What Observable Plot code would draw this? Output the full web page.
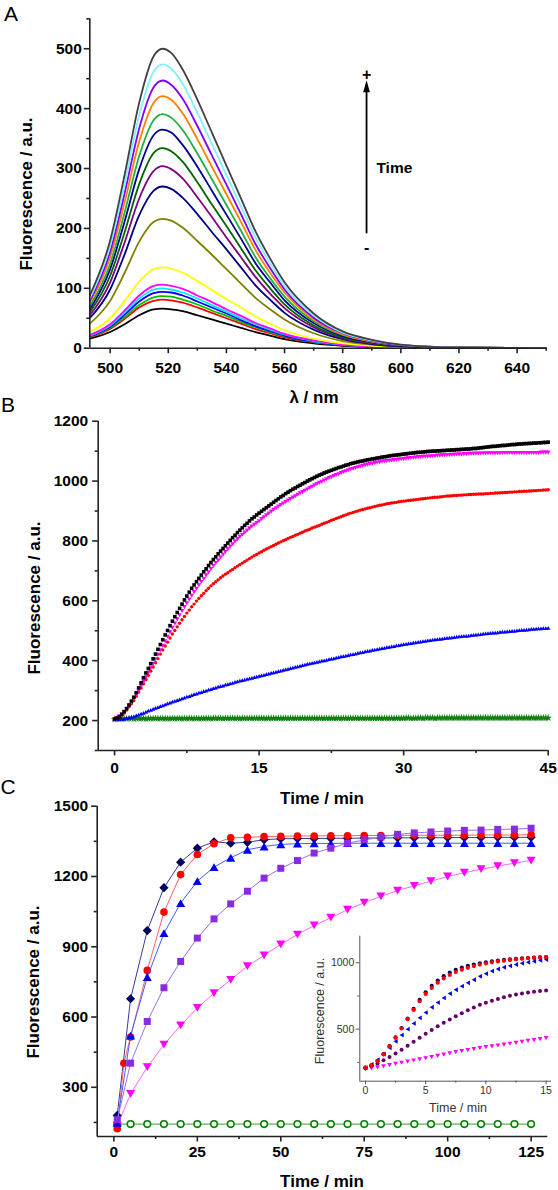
<!DOCTYPE html>
<html><head><meta charset="utf-8">
<script src="https://cdn.jsdelivr.net/npm/d3@7"></script>
<script src="https://cdn.jsdelivr.net/npm/@observablehq/plot@0.6"></script>
<style>
body{margin:0;background:#fff;}
#wrap{position:relative;width:558px;height:1190px;overflow:hidden;font-family:"Liberation Sans",Arial,sans-serif;color:#000;}
.abs{position:absolute;}
.lab{position:absolute;white-space:nowrap;transform:translate(-50%,-50%);font-weight:bold;font-size:17px;line-height:1;}
.plab{position:absolute;white-space:nowrap;transform:translate(-50%,-50%);font-size:21px;line-height:1;}
.ilab{position:absolute;white-space:nowrap;transform:translate(-50%,-50%);font-size:12.5px;line-height:1;color:#333;}
.lab.rot,.ilab.rot{transform:translate(-50%,-50%) rotate(-90deg);}
</style></head><body><div id="wrap"></div>
<script>
// ---------------- Panel A: emission spectra ----------------
const wavelengthNm = [493,500,505,510,515,518,521,525,530,535,540,545,550,555,560,570,580,590,600,620,650];
const spectrum01 = [16,27,40,55,65,66,65,62,55,48,41,34,27,21,15,8,4,2,1,0,0];
const spectrum02 = [18,32,49,68,79,81,80,76,68,59,50,41,32,25,18,10,5,2,1,0,0];
const spectrum03 = [19,34,52,72,85,87,86,81,73,63,54,44,35,27,20,10,5,2,1,0,0];
const spectrum04 = [20,36,56,78,92,94,93,88,78,68,58,47,37,29,21,11,5,3,1,0,0];
const spectrum05 = [21,38,60,83,98,100,98,93,83,72,61,50,40,31,23,12,6,3,1,0,0];
const spectrum06 = [22,40,63,88,104,106,104,99,88,77,65,54,42,33,24,13,6,3,1,0,0];
const spectrum07 = [27,50,79,111,132,135,133,126,112,97,82,68,53,41,30,16,8,4,2,0,0];
const spectrum08 = [41,79,126,178,211,216,213,201,179,156,132,108,84,65,48,25,12,6,3,1,0];
const spectrum09 = [50,98,157,222,263,270,266,251,224,194,165,135,105,81,59,31,15,7,3,1,0];
const spectrum10 = [55,110,177,250,296,304,299,283,252,219,185,152,119,91,67,35,17,8,4,1,0];
const spectrum11 = [60,121,194,274,326,334,329,311,277,240,204,167,130,100,73,38,18,9,4,1,0];
const spectrum12 = [65,132,212,299,356,365,360,339,303,263,223,183,142,110,80,42,20,10,4,1,0];
const spectrum13 = [70,141,227,321,381,391,385,364,325,282,239,196,152,117,86,45,22,11,5,1,0];
const spectrum14 = [75,152,244,345,410,421,415,392,349,303,257,211,164,126,93,48,23,11,5,1,0];
const spectrum15 = [79,161,259,367,436,447,440,416,371,322,273,224,174,134,98,51,25,12,5,1,0];
const spectrum16 = [83,171,275,389,462,474,467,441,393,341,289,237,185,142,104,55,26,13,6,1,0];
const spectrum17 = [88,180,290,410,488,500,493,465,415,360,305,250,195,150,110,58,28,14,6,1,0];
const spectra = [spectrum01,spectrum02,spectrum03,spectrum04,spectrum05,spectrum06,spectrum07,spectrum08,spectrum09,spectrum10,spectrum11,spectrum12,spectrum13,spectrum14,spectrum15,spectrum16,spectrum17];
const spectrumColors = ["#000000","#ff0000","#00c000","#0000ff","#00e8ff","#ff00ff","#ffff00","#808000","#000080","#800080","#006400","#000090","#22b040","#ff8000","#8000ff","#80f0ff","#404040"];
const xTicksA = [500,520,540,560,580,600,620,640];
const xMinorA = [510,530,550,570,590,610,630,650];
const yTicksA = [0,100,200,300,400,500];
const yMinorA = [50,150,250,350,450,550];
// arrow annotation (data units)
const timeArrow = {x: 588.2, from: 191, to: 427, head: 434, plus: 457, minus: 168, textX: 591.6, textY: 301};

// ---------------- Panel B: kinetics 0-45 min (every 15 s) ----------------
const timeB = [0,0.25,0.5,0.75,1,1.25,1.5,1.75,2,2.25,2.5,2.75,3,3.25,3.5,3.75,4,4.25,4.5,4.75,5,5.25,5.5,5.75,6,6.25,6.5,6.75,7,7.25,7.5,7.75,8,8.25,8.5,8.75,9,9.25,9.5,9.75,10,10.25,10.5,10.75,11,11.25,11.5,11.75,12,12.25,12.5,12.75,13,13.25,13.5,13.75,14,14.25,14.5,14.75,15,15.25,15.5,15.75,16,16.25,16.5,16.75,17,17.25,17.5,17.75,18,18.25,18.5,18.75,19,19.25,19.5,19.75,20,20.25,20.5,20.75,21,21.25,21.5,21.75,22,22.25,22.5,22.75,23,23.25,23.5,23.75,24,24.25,24.5,24.75,25,25.25,25.5,25.75,26,26.25,26.5,26.75,27,27.25,27.5,27.75,28,28.25,28.5,28.75,29,29.25,29.5,29.75,30,30.25,30.5,30.75,31,31.25,31.5,31.75,32,32.25,32.5,32.75,33,33.25,33.5,33.75,34,34.25,34.5,34.75,35,35.25,35.5,35.75,36,36.25,36.5,36.75,37,37.25,37.5,37.75,38,38.25,38.5,38.75,39,39.25,39.5,39.75,40,40.25,40.5,40.75,41,41.25,41.5,41.75,42,42.25,42.5,42.75,43,43.25,43.5,43.75,44,44.25,44.5,44.75,45];
const blackB = [205,208,213,221,230,240,252,265,278,293,309,326,343,359,374,390,406,422,438,454,470,486,501,517,532,547,561,575,589,603,616,629,642,653,664,675,686,697,707,718,
728,738,747,757,766,775,784,793,802,811,819,828,836,844,852,859,867,874,880,887,893,899,905,911,917,923,929,935,941,947,952,958,963,968,973,977,982,986,991,995,
1000,1004,1008,1012,1016,1020,1023,1027,1030,1033,1036,1039,1042,1045,1047,1050,1053,1055,1058,1060,1062,1064,1066,1067,1069,1071,1072,1074,1075,1077,1078,1080,1081,1082,1084,1085,1086,1087,1088,1089,
1090,1091,1092,1093,1094,1095,1096,1096,1097,1098,1099,1099,1100,1100,1101,1101,1102,1102,1103,1103,1104,1104,1105,1105,1106,1106,1107,1107,1108,1109,1109,1110,1111,1112,1113,1114,1115,1116,1116,1117,
1118,1119,1119,1120,1121,1122,1122,1123,1124,1124,1125,1125,1126,1126,1127,1127,1128,1128,1129,1129,1130];
const magentaB = [205,208,214,220,228,238,249,260,272,286,300,315,330,345,360,375,390,405,420,435,450,465,480,495,510,524,538,552,566,579,592,604,617,629,640,652,663,674,685,695,
706,716,726,735,745,754,763,772,781,789,798,806,814,821,828,835,842,848,854,860,866,873,879,886,892,898,904,909,915,920,925,930,935,940,945,949,954,959,963,968,
972,977,981,986,990,994,998,1002,1006,1010,1013,1017,1020,1023,1027,1030,1033,1036,1039,1041,1044,1046,1049,1051,1053,1055,1057,1058,1060,1062,1063,1065,1066,1067,1068,1069,1070,1071,1072,1073,
1074,1075,1076,1077,1078,1079,1080,1080,1081,1081,1082,1082,1083,1084,1085,1085,1086,1086,1087,1087,1088,1088,1089,1089,1089,1090,1090,1091,1091,1091,1092,1092,1092,1092,1093,1093,1093,1093,1093,1093,
1093,1094,1094,1094,1094,1094,1094,1094,1094,1094,1094,1094,1094,1094,1094,1094,1094,1095,1095,1095,1095];
const redB = [205,208,214,219,225,235,246,256,267,281,295,309,323,337,351,365,379,393,407,422,436,449,462,476,489,501,513,525,537,548,559,569,580,589,599,608,617,625,634,642,
650,657,664,670,677,683,689,694,700,705,711,716,721,726,731,736,741,746,751,755,760,764,769,773,777,781,785,789,793,797,801,804,808,812,815,819,822,826,829,833,
836,839,843,846,849,852,856,859,862,865,869,872,875,878,881,884,887,890,893,895,898,900,903,905,907,909,911,913,915,917,919,920,922,924,925,927,928,929,931,932,
933,934,935,936,937,938,939,940,941,942,943,944,945,946,946,947,948,949,950,950,951,952,952,953,953,954,954,955,955,956,956,957,957,957,958,958,959,959,960,960,
961,961,962,962,963,963,964,964,965,965,966,966,967,967,968,968,969,969,970,970,971];
const blueB = [205,205,205,206,206,208,210,212,214,217,220,223,226,229,233,236,239,242,245,248,251,254,257,260,263,266,268,271,274,277,280,282,285,288,290,293,295,298,300,303,
305,308,310,313,315,317,320,322,324,326,329,331,333,335,337,339,341,343,345,347,349,351,353,355,357,359,361,363,365,367,369,371,373,375,377,379,381,383,385,387,
389,391,393,394,396,398,400,401,403,405,407,408,410,412,414,415,417,419,421,422,424,426,428,429,431,433,434,436,437,439,440,442,443,445,446,448,449,451,452,454,
455,456,458,459,460,461,463,464,465,466,468,469,470,471,472,473,474,475,476,477,478,479,480,481,482,483,483,484,485,486,487,488,489,490,491,492,493,494,494,495,
496,497,497,498,499,500,500,501,502,503,503,504,505,506,506,507,508,508,509,509,510];
const greenB = [204,205,205,206,206,206,207,207,206,207,207,207,207,206,207,207,207,207,207,207,207,207,206,207,207,207,207,207,207,207,207,208,207,207,207,207,207,207,208,207,
207,208,208,208,208,207,208,208,208,208,208,208,207,208,208,208,208,208,208,208,208,208,208,207,208,208,208,208,208,208,208,208,208,208,208,208,208,208,208,208,
208,208,208,208,208,208,208,208,208,208,208,208,208,208,208,208,208,208,208,208,208,208,208,208,208,208,208,208,208,208,208,208,208,208,208,208,208,208,208,208,
208,209,209,208,208,208,209,209,208,209,209,209,209,208,209,209,209,209,209,209,209,209,209,209,209,209,209,209,209,209,209,209,209,209,209,209,209,209,209,209,
209,209,209,209,209,209,209,209,209,209,209,209,209,209,209,209,209,209,209,209,209];
const xTicksB = [0,15,30,45];
const xMinorB = [7.5,22.5,37.5];
const yTicksB = [200,400,600,800,1000,1200];
const yMinorB = [100,300,500,700,900,1100];

// ---------------- Panel C: kinetics 0-125 min ----------------
const timeC = [1,5,10,15,20,25,30,35,40,45,50,55,60,65,70,75,80,85,90,95,100,105,110,115,120,125];
const timeCred = [1,3,5,10,15,20,25,30,35,40,45,50,55,60,65,70,75,80,85,90,95,100,105,110,115,120,125];
const navyC = [180,678,969,1152,1261,1321,1348,1342,1346,1357,1361,1362,1362,1363,1363,1364,1364,1365,1365,1365,1366,1366,1366,1367,1367,1367];
const redC = [123,403,515,799,1048,1208,1294,1340,1365,1367,1370,1371,1373,1373,1374,1374,1375,1375,1375,1376,1376,1376,1376,1377,1377,1377,1378];
const blueC = [148,521,770,958,1086,1180,1240,1280,1314,1328,1337,1340,1341,1341,1342,1342,1342,1342,1342,1342,1342,1342,1342,1342,1342,1342];
const purpleC = [162,403,581,725,837,937,1019,1083,1137,1193,1235,1268,1300,1321,1342,1356,1368,1380,1386,1390,1394,1397,1398,1401,1402,1406];
const magentaC = [135,272,386,482,564,639,702,759,817,863,910,952,991,1024,1058,1088,1115,1140,1160,1180,1200,1216,1231,1244,1257,1268];
const greenC = [143,143,143,143,143,143,143,143,143,143,143,143,143,143,143,143,143,143,143,143,143,143,143,143,143,143];
const xTicksC = [0,25,50,75,100,125];
const xMinorC = [12.5,37.5,62.5,87.5,112.5];
const yTicksC = [300,600,900,1200,1500];
const yMinorC = [150,450,750,1050,1350];

// ---------------- Inset: first 15 min ----------------
const timeI = [0,0.5,1,1.5,2,2.5,3,3.5,4,4.5,5,5.5,6,6.5,7,7.5,8,8.5,9,9.5,10,10.5,11,11.5,12,12.5,13,13.5,14,14.5,15];
const navyI = [210,228,262,312,372,438,508,580,652,720,778,826,866,899,925,946,963,976,987,996,1004,1011,1017,1022,1026,1030,1033,1036,1038,1040,1042];
const redI = [210,225,260,310,370,435,505,575,645,710,765,810,850,882,908,930,948,962,975,986,995,1003,1010,1016,1021,1026,1030,1034,1037,1040,1043];
const blueI = [210,235,270,312,360,408,455,500,543,585,625,665,700,735,768,797,824,849,872,898,918,937,953,966,977,987,996,1004,1011,1018,1024];
const purpleI = [205,222,242,265,290,316,345,375,405,435,465,494,522,548,573,597,620,642,663,683,698,713,727,740,751,761,769,776,782,787,791];
const magentaI = [200,205,212,220,229,238,247,256,264,273,281,290,299,308,318,327,335,342,350,357,364,371,377,384,390,397,404,411,418,425,432];
const xTicksI = [0,5,10,15];
const xMinorI = [2.5,7.5,12.5];
const yTicksI = [500,1000];
const yMinorI = [250,750];

// ---------------- helpers ----------------
const wrap = document.getElementById("wrap");
function place(node, left, top) {
  const d = document.createElement("div");
  d.className = "abs"; d.style.left = left + "px"; d.style.top = top + "px";
  d.appendChild(node); wrap.appendChild(d);
}
function label(text, x, y, cls) {
  const d = document.createElement("div");
  d.className = cls; d.textContent = text;
  d.style.left = x + "px"; d.style.top = y + "px";
  wrap.appendChild(d);
}
function sym(points) {
  return {draw(c, s) {
    const r = Math.sqrt(s / Math.PI);
    c.moveTo(points[0][0] * r, points[0][1] * r);
    for (let i = 1; i < points.length; i++) c.lineTo(points[i][0] * r, points[i][1] * r);
    c.closePath();
  }};
}
const symSquare = sym([[-1,-1],[1,-1],[1,1],[-1,1]]);
const symDiamond = sym([[0,-1],[1,0],[0,1],[-1,0]]);
const symUp = sym([[0,-0.75],[0.866,0.75],[-0.866,0.75]]);
const symDown = sym([[0,0.75],[0.866,-0.75],[-0.866,-0.75]]);
const symLeft = sym([[-0.75,0],[0.75,-0.866],[0.75,0.866]]);
const symHead = sym([[0,-1],[0.42,0.5],[-0.42,0.5]]);

function axes(o) {
  const fmt = d => String(d);
  return [
    Plot.axisX({ticks: o.xMinor, tickSize: o.minor, tickFormat: () => "", label: null, strokeWidth: o.sw, stroke: o.color}),
    Plot.axisX({ticks: o.xTicks, tickSize: o.major, tickPadding: o.xPad, tickFormat: fmt, label: null, strokeWidth: o.sw, stroke: o.color, fill: o.textColor}),
    Plot.axisY({ticks: o.yMinor, tickSize: o.minor, tickFormat: () => "", label: null, strokeWidth: o.sw, stroke: o.color}),
    Plot.axisY({ticks: o.yTicks, tickSize: o.major, tickPadding: o.yPad, tickFormat: fmt, label: null, strokeWidth: o.sw, stroke: o.color, fill: o.textColor}),
    Plot.ruleX([o.xDom[0]], {strokeWidth: o.sw, stroke: o.color}),
    Plot.ruleY([o.yDom[0]], {strokeWidth: o.sw, stroke: o.color})
  ];
}
const mainStyle = {background: "transparent", overflow: "visible", fontFamily: "'Liberation Sans', Arial, sans-serif", fontSize: "15.5px", fontWeight: "bold", color: "#000"};

// ---------------- Panel A ----------------
const xDomA = [493, 650], yDomA = [0, 550];
const plotA = Plot.plot({
  width: 558, height: 410, marginLeft: 89.3, marginRight: 12.3, marginTop: 18.3, marginBottom: 62.3,
  x: {domain: xDomA}, y: {domain: yDomA}, style: mainStyle,
  marks: [
    ...spectra.map((vals, k) => Plot.line(vals, {x: wavelengthNm, y: vals, stroke: spectrumColors[k], strokeWidth: 1.8, curve: "monotone-x"})),
    Plot.ruleX([timeArrow.x], {y1: timeArrow.from, y2: timeArrow.to, strokeWidth: 1.8, stroke: "#000"}),
    Plot.dot([timeArrow], {x: "x", y: "head", symbol: symHead, r: 8, fill: "#000", stroke: "none"}),
    Plot.text([timeArrow], {x: "x", y: "plus", text: () => "+", fontSize: 16, fontWeight: "bold"}),
    Plot.text([timeArrow], {x: "x", y: "minus", text: () => "-", fontSize: 16, fontWeight: "bold"}),
    Plot.text([timeArrow], {x: "textX", y: "textY", text: () => "Time", textAnchor: "start", fontSize: 15.5, fontWeight: "bold"}),
    ...axes({xDom: xDomA, yDom: yDomA, xTicks: xTicksA, xMinor: xMinorA, yTicks: yTicksA, yMinor: yMinorA, major: 5.5, minor: 3, xPad: 8.5, yPad: 2.5, sw: 1.6, color: "#222"})
  ]
});
place(plotA, 0, 0);

// ---------------- Panel B ----------------
const xDomB = [-1.7, 45], yDomB = [100, 1200];
const plotB = Plot.plot({
  width: 558, height: 400, marginLeft: 97.7, marginRight: 10.3, marginTop: 20.7, marginBottom: 50,
  x: {domain: xDomB}, y: {domain: yDomB}, style: mainStyle,
  marks: [
    Plot.dot(greenB, {x: timeB, y: greenB, symbol: "star", r: 2.4, fill: "#108010", stroke: "none"}),
    Plot.dot(blueB, {x: timeB, y: blueB, symbol: symUp, r: 2.5, fill: "#0000ff", stroke: "none"}),
    Plot.dot(redB, {x: timeB, y: redB, r: 1.7, fill: "#ff0000", stroke: "none"}),
    Plot.dot(magentaB, {x: timeB, y: magentaB, symbol: symDown, r: 2.7, fill: "#ff00ff", stroke: "none"}),
    Plot.dot(blackB, {x: timeB, y: blackB, symbol: symSquare, r: 1.8, fill: "#000", stroke: "none"}),
    ...axes({xDom: xDomB, yDom: yDomB, xTicks: xTicksB, xMinor: xMinorB, yTicks: yTicksB, yMinor: yMinorB, major: 5.5, minor: 3, xPad: 5.5, yPad: 4.5, sw: 1.6, color: "#222"})
  ]
});
place(plotB, 0, 400);

// ---------------- Panel C ----------------
const xDomC = [-5, 130], yDomC = [90, 1500];
const plotC = Plot.plot({
  width: 558, height: 400, marginLeft: 96.7, marginRight: 10.7, marginTop: 15.7, marginBottom: 54,
  x: {domain: xDomC}, y: {domain: yDomC}, style: mainStyle,
  marks: [
    Plot.line(greenC, {x: timeC, y: greenC, stroke: "#3a9a3a", strokeWidth: 1}),
    Plot.dot(greenC, {x: timeC, y: greenC, r: 3.3, fill: "#fff", stroke: "#008000", strokeWidth: 1.6}),
    Plot.line(magentaC, {x: timeC, y: magentaC, stroke: "#ff66ff", strokeWidth: 1}),
    Plot.dot(magentaC, {x: timeC, y: magentaC, symbol: symDown, r: 5.2, fill: "#ff00ff", stroke: "none"}),
    Plot.line(navyC, {x: timeC, y: navyC, stroke: "#3a3a99", strokeWidth: 1}),
    Plot.dot(navyC, {x: timeC, y: navyC, symbol: symDiamond, r: 4.6, fill: "#00005e", stroke: "none"}),
    Plot.line(redC, {x: timeCred, y: redC, stroke: "#ff6060", strokeWidth: 1}),
    Plot.dot(redC, {x: timeCred, y: redC, r: 3.8, fill: "#ff0000", stroke: "none"}),
    Plot.line(blueC, {x: timeC, y: blueC, stroke: "#4060ff", strokeWidth: 1}),
    Plot.dot(blueC, {x: timeC, y: blueC, symbol: symUp, r: 5.2, fill: "#0000ee", stroke: "none"}),
    Plot.line(purpleC, {x: timeC, y: purpleC, stroke: "#9a70f0", strokeWidth: 1}),
    Plot.dot(purpleC, {x: timeC, y: purpleC, symbol: symSquare, r: 3.5, fill: "#8a2be2", stroke: "none"}),
    ...axes({xDom: xDomC, yDom: yDomC, xTicks: xTicksC, xMinor: xMinorC, yTicks: yTicksC, yMinor: yMinorC, major: 5.5, minor: 3, xPad: 4, yPad: 3.5, sw: 1.6, color: "#222"})
  ]
});
place(plotC, 0, 790);

// ---------------- Inset ----------------
const xDomI = [-0.47, 15.45], yDomI = [108, 1200];
const plotI = Plot.plot({
  width: 258, height: 195, marginLeft: 59.3, marginRight: 7, marginTop: 10.7, marginBottom: 39.3,
  x: {domain: xDomI}, y: {domain: yDomI},
  style: {background: "transparent", overflow: "visible", fontFamily: "'Liberation Sans', Arial, sans-serif", fontSize: "10.5px", fontWeight: "normal", color: "#333"},
  marks: [
    Plot.dot(magentaI, {x: timeI, y: magentaI, symbol: symDown, r: 2.8, fill: "#ff00ff", stroke: "none"}),
    Plot.dot(purpleI, {x: timeI, y: purpleI, r: 2, fill: "#660066", stroke: "none"}),
    Plot.dot(blueI, {x: timeI, y: blueI, symbol: symLeft, r: 2.8, fill: "#0000ff", stroke: "none"}),
    Plot.dot(navyI, {x: timeI, y: navyI, r: 2.1, fill: "#000066", stroke: "none"}),
    Plot.dot(redI, {x: timeI, y: redI, r: 2.1, fill: "#ff0000", stroke: "none"}),
    ...axes({xDom: xDomI, yDom: yDomI, xTicks: xTicksI, xMinor: xMinorI, yTicks: yTicksI, yMinor: yMinorI, major: 3.5, minor: 2, xPad: 2, yPad: 2, sw: 1, color: "#555", textColor: "#333"})
  ]
});
place(plotI, 300, 925);

// ---------------- titles and labels ----------------
label("A", 11, 13, "plab");
label("B", 8, 404, "plab");
label("C", 8, 786, "plab");
label("Fluorescence / a.u.", 26, 194, "lab rot");
label("λ / nm", 314, 397, "lab");
label("Fluorescence / a.u.", 34, 598, "lab rot");
label("Time / min", 322, 798, "lab");
label("Fluorescence / a.u.", 32.5, 982, "lab rot");
label("Time / min", 322, 1181, "lab");
label("Fluorescence / a.u.", 320, 1011, "ilab rot");
label("Time / min", 458, 1107.5, "ilab");
</script></body></html>
